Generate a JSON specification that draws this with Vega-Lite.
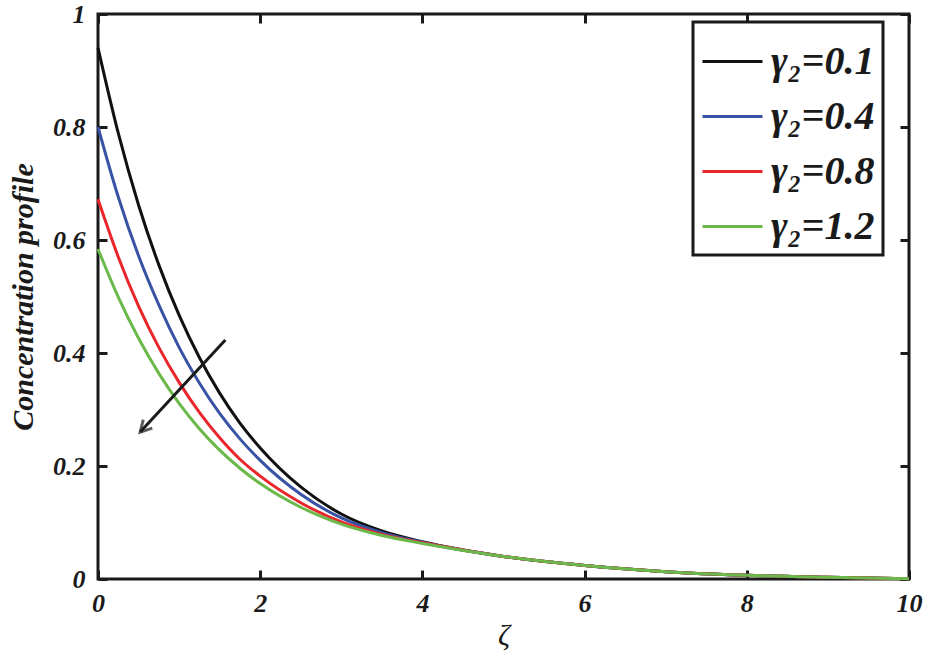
{
  "$schema": "https://vega.github.io/schema/vega-lite/v6.json",
  "width": 811,
  "height": 565,
  "autosize": {"type": "none"},
  "padding": {"left": 98, "top": 14, "right": 16, "bottom": 76},
  "background": "white",
  "config": {
    "view": {"stroke": "#1a1a1a", "strokeWidth": 3},
    "axis": {
      "labelFont": "Liberation Serif", "labelFontStyle": "italic", "labelFontWeight": "bold",
      "labelFontSize": 26, "labelColor": "#1a1a1a",
      "titleFont": "Liberation Serif", "titleFontStyle": "italic", "titleFontWeight": "bold",
      "titleColor": "#1a1a1a", "grid": false, "domain": false,
      "tickColor": "#1a1a1a", "tickWidth": 3, "tickSize": -9
    },
    "legend": {"strokeWidth": 3}
  },
  "datasets": {
    "curves": [
      {"z": 0, "c": 0.94, "g": "γ₂=0.1"}, {"z": 0.25, "c": 0.789, "g": "γ₂=0.1"}, {"z": 0.5, "c": 0.662, "g": "γ₂=0.1"}, {"z": 0.75, "c": 0.556, "g": "γ₂=0.1"}, {"z": 1, "c": 0.467, "g": "γ₂=0.1"}, {"z": 1.25, "c": 0.392, "g": "γ₂=0.1"}, {"z": 1.5, "c": 0.329, "g": "γ₂=0.1"}, {"z": 1.75, "c": 0.276, "g": "γ₂=0.1"}, {"z": 2, "c": 0.232, "g": "γ₂=0.1"}, {"z": 2.5, "c": 0.163, "g": "γ₂=0.1"}, {"z": 3, "c": 0.115, "g": "γ₂=0.1"}, {"z": 3.5, "c": 0.085, "g": "γ₂=0.1"}, {"z": 4, "c": 0.066, "g": "γ₂=0.1"}, {"z": 5, "c": 0.040, "g": "γ₂=0.1"}, {"z": 6, "c": 0.024, "g": "γ₂=0.1"}, {"z": 7, "c": 0.013, "g": "γ₂=0.1"}, {"z": 8, "c": 0.0065, "g": "γ₂=0.1"}, {"z": 9, "c": 0.003, "g": "γ₂=0.1"}, {"z": 10, "c": 0.0005, "g": "γ₂=0.1"},
      {"z": 0, "c": 0.80, "g": "γ₂=0.4"}, {"z": 0.25, "c": 0.676, "g": "γ₂=0.4"}, {"z": 0.5, "c": 0.572, "g": "γ₂=0.4"}, {"z": 0.75, "c": 0.485, "g": "γ₂=0.4"}, {"z": 1, "c": 0.410, "g": "γ₂=0.4"}, {"z": 1.25, "c": 0.347, "g": "γ₂=0.4"}, {"z": 1.5, "c": 0.293, "g": "γ₂=0.4"}, {"z": 1.75, "c": 0.248, "g": "γ₂=0.4"}, {"z": 2, "c": 0.210, "g": "γ₂=0.4"}, {"z": 2.5, "c": 0.150, "g": "γ₂=0.4"}, {"z": 3, "c": 0.108, "g": "γ₂=0.4"}, {"z": 3.5, "c": 0.082, "g": "γ₂=0.4"}, {"z": 4, "c": 0.065, "g": "γ₂=0.4"}, {"z": 5, "c": 0.040, "g": "γ₂=0.4"}, {"z": 6, "c": 0.024, "g": "γ₂=0.4"}, {"z": 7, "c": 0.013, "g": "γ₂=0.4"}, {"z": 8, "c": 0.0065, "g": "γ₂=0.4"}, {"z": 9, "c": 0.003, "g": "γ₂=0.4"}, {"z": 10, "c": 0.0005, "g": "γ₂=0.4"},
      {"z": 0, "c": 0.672, "g": "γ₂=0.8"}, {"z": 0.25, "c": 0.570, "g": "γ₂=0.8"}, {"z": 0.5, "c": 0.483, "g": "γ₂=0.8"}, {"z": 0.75, "c": 0.410, "g": "γ₂=0.8"}, {"z": 1, "c": 0.348, "g": "γ₂=0.8"}, {"z": 1.25, "c": 0.295, "g": "γ₂=0.8"}, {"z": 1.5, "c": 0.250, "g": "γ₂=0.8"}, {"z": 1.75, "c": 0.212, "g": "γ₂=0.8"}, {"z": 2, "c": 0.182, "g": "γ₂=0.8"}, {"z": 2.5, "c": 0.135, "g": "γ₂=0.8"}, {"z": 3, "c": 0.101, "g": "γ₂=0.8"}, {"z": 3.5, "c": 0.079, "g": "γ₂=0.8"}, {"z": 4, "c": 0.064, "g": "γ₂=0.8"}, {"z": 5, "c": 0.040, "g": "γ₂=0.8"}, {"z": 6, "c": 0.024, "g": "γ₂=0.8"}, {"z": 7, "c": 0.013, "g": "γ₂=0.8"}, {"z": 8, "c": 0.0065, "g": "γ₂=0.8"}, {"z": 9, "c": 0.003, "g": "γ₂=0.8"}, {"z": 10, "c": 0.0005, "g": "γ₂=0.8"},
      {"z": 0, "c": 0.584, "g": "γ₂=1.2"}, {"z": 0.25, "c": 0.499, "g": "γ₂=1.2"}, {"z": 0.5, "c": 0.426, "g": "γ₂=1.2"}, {"z": 0.75, "c": 0.364, "g": "γ₂=1.2"}, {"z": 1, "c": 0.311, "g": "γ₂=1.2"}, {"z": 1.25, "c": 0.266, "g": "γ₂=1.2"}, {"z": 1.5, "c": 0.228, "g": "γ₂=1.2"}, {"z": 1.75, "c": 0.196, "g": "γ₂=1.2"}, {"z": 2, "c": 0.169, "g": "γ₂=1.2"}, {"z": 2.5, "c": 0.127, "g": "γ₂=1.2"}, {"z": 3, "c": 0.097, "g": "γ₂=1.2"}, {"z": 3.5, "c": 0.077, "g": "γ₂=1.2"}, {"z": 4, "c": 0.063, "g": "γ₂=1.2"}, {"z": 5, "c": 0.040, "g": "γ₂=1.2"}, {"z": 6, "c": 0.024, "g": "γ₂=1.2"}, {"z": 7, "c": 0.013, "g": "γ₂=1.2"}, {"z": 8, "c": 0.0065, "g": "γ₂=1.2"}, {"z": 9, "c": 0.003, "g": "γ₂=1.2"}, {"z": 10, "c": 0.0005, "g": "γ₂=1.2"}
    ],
    "arrow": [
      {"x": 1.57, "y": 0.423, "x2": 0.52, "y2": 0.26}
    ]
  },
  "layer": [
    {
      "data": {"name": "curves"},
      "mark": {"type": "line", "strokeWidth": 3, "interpolate": "monotone"},
      "encoding": {
        "x": {"field": "z", "type": "quantitative", "scale": {"domain": [0, 10], "nice": false},
              "axis": {"values": [0, 2, 4, 6, 8, 10], "format": "d", "title": "ζ", "titleFontSize": 30, "titleFontWeight": "normal", "titlePadding": 4, "labelPadding": 20, "labelFlush": false}},
        "y": {"field": "c", "type": "quantitative", "scale": {"domain": [0, 1], "nice": false},
              "axis": {"values": [0, 0.2, 0.4, 0.6, 0.8, 1], "format": "~r", "title": "Concentration profile", "titleFontSize": 30, "titlePadding": 14, "labelPadding": 22, "labelFlush": false}},
        "color": {"field": "g", "type": "nominal",
                  "scale": {"domain": ["γ₂=0.1", "γ₂=0.4", "γ₂=0.8", "γ₂=1.2"], "range": ["#111111", "#3953a4", "#e8262b", "#6ab94a"]},
                  "legend": {"title": null, "orient": "none", "legendX": 595, "legendY": 8,
                             "symbolType": "stroke", "symbolSize": 3600, "symbolStrokeWidth": 3,
                             "labelFont": "Liberation Serif", "labelFontStyle": "italic", "labelFontWeight": "bold", "labelFontSize": 40, "labelColor": "#1a1a1a",
                             "rowPadding": 3, "padding": 8, "strokeColor": "#1a1a1a", "fillColor": "white", "labelOffset": 7}}
      }
    },
    {
      "data": {"name": "arrow"},
      "mark": {"type": "rule", "strokeWidth": 3, "color": "#1a1a1a"},
      "encoding": {
        "x": {"field": "x", "type": "quantitative", "scale": {"domain": [0, 10], "nice": false},
              "axis": {"orient": "top", "values": [0, 2, 4, 6, 8, 10], "labels": false, "title": null}},
        "y": {"field": "y", "type": "quantitative", "scale": {"domain": [0, 1], "nice": false},
              "axis": {"orient": "right", "values": [0, 0.2, 0.4, 0.6, 0.8, 1], "labels": false, "title": null}},
        "x2": {"field": "x2"},
        "y2": {"field": "y2"}
      }
    },
    {
      "data": {"name": "arrow"},
      "mark": {"type": "point", "shape": "M-0.55,1L0,0L0.55,1", "filled": false, "strokeWidth": 3, "size": 500, "color": "#1a1a1a", "angle": 222.7},
      "encoding": {
        "x": {"field": "x2", "type": "quantitative", "axis": null},
        "y": {"field": "y2", "type": "quantitative", "axis": null}
      }
    }
  ],
  "resolve": {"axis": {"x": "independent", "y": "independent"}}
}
